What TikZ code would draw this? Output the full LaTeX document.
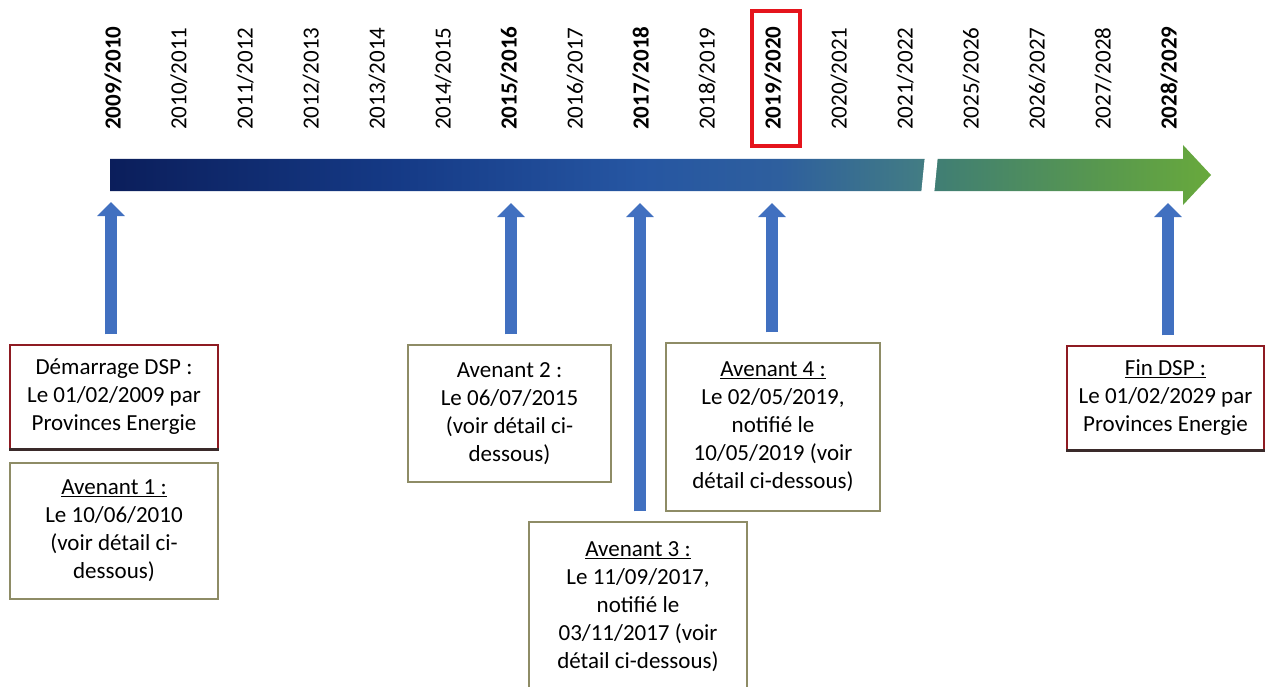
\documentclass[tikz,border=0pt]{standalone}
\usepackage{fontspec}
\setmainfont{Carlito}
\usetikzlibrary{arrows.meta}
\definecolor{c0}{HTML}{0B1E5B}
\definecolor{c1}{HTML}{153A86}
\definecolor{c2}{HTML}{2656A2}
\definecolor{c3}{HTML}{2E5F9E}
\definecolor{c4}{HTML}{427C84}
\definecolor{c5}{HTML}{407E74}
\definecolor{c6}{HTML}{58984E}
\definecolor{c7}{HTML}{68A93C}
\definecolor{arrblue}{HTML}{4170C0}
\definecolor{hlred}{HTML}{E5141C}
\definecolor{dspred}{HTML}{8E1B22}
\definecolor{shadowdark}{HTML}{3A2A2A}
\definecolor{olivebd}{HTML}{8E8C66}
\pgfdeclarehorizontalshading{barshade}{100bp}{color(0bp)=(c0); color(25bp)=(c0); color(38bp)=(c1); color(49bp)=(c2); color(55.4bp)=(c3); color(61.8bp)=(c4); color(62.5bp)=(c5); color(70bp)=(c6); color(75bp)=(c7); color(100bp)=(c7)}
\tikzset{
  yr/.style={rotate=90, anchor=west, inner sep=0pt, font=\fontsize{23}{28}\selectfont},
  yrb/.style={yr, font=\fontsize{23}{28}\selectfont\bfseries},
  redbx/.style={draw=dspred, line width=1.2pt, fill=white, align=center, inner sep=0pt},
  olbx/.style={draw=olivebd, line width=1.5pt, fill=white, align=center, inner sep=0pt},
  blk/.style={draw=arrblue, line width=12.5pt, -{Triangle[width=27pt,length=14pt]}, shorten <=10pt},
  hlbox/.style={draw=hlred, line width=3.5pt, inner sep=0pt}
}
\begin{document}
\begin{tikzpicture}[x=1pt,y=-1pt, font=\fontsize{23}{28}\selectfont]
\useasboundingbox (0,0) rectangle (1265,687);
\fill[white] (0,0) rectangle (1265,687);

% main timeline arrow
\shade[shading=barshade] (110,159) -- (1183,159) -- (1183,145) -- (1211,175) -- (1183,205) -- (1183,191) -- (110,191) -- cycle;
\fill[white] (925,155) -- (938,155) -- (934,195) -- (921,195) -- cycle;

% year labels
\node[yrb] (y0)  at (113,130) {2009/2010};
\node[yr]  (y1)  at (179,130) {2010/2011};
\node[yr]  (y2)  at (245,130) {2011/2012};
\node[yr]  (y3)  at (311,130) {2012/2013};
\node[yr]  (y4)  at (377,130) {2013/2014};
\node[yr]  (y5)  at (443,130) {2014/2015};
\node[yrb] (y6)  at (509,130) {2015/2016};
\node[yr]  (y7)  at (575,130) {2016/2017};
\node[yrb] (y8)  at (641,130) {2017/2018};
\node[yr]  (y9)  at (707,130) {2018/2019};
\node[yrb] (y10) at (773,130) {2019/2020};
\node[yr]  (y11) at (839,130) {2020/2021};
\node[yr]  (y12) at (905,130) {2021/2022};
\node[yr]  (y13) at (971,130) {2025/2026};
\node[yr]  (y14) at (1037,130) {2026/2027};
\node[yr]  (y15) at (1103,130) {2027/2028};
\node[yrb] (y16) at (1169,130) {2028/2029};
\node[hlbox, minimum width=48pt, minimum height=135pt] (hl) at (776,78.5) {};

% arrow target points on the bar
\coordinate (t1) at (111,202);
\coordinate (t2) at (511,203);
\coordinate (t3) at (640,203);
\coordinate (t4) at (772,203);
\coordinate (t5) at (1168,203);

% boxes
\node[redbx, minimum width=208pt, minimum height=104pt] (dem) at (114,397)
  {Démarrage DSP :\\Le 01/02/2009 par\\Provinces Energie};
\node[olbx, minimum width=208pt, minimum height=136pt] (av1) at (114,531)
  {\underline{Avenant 1 :}\\Le 10/06/2010\\(voir détail ci-\\dessous)};
\node[olbx, minimum width=203pt, minimum height=137pt] (av2) at (509.5,413.5)
  {Avenant 2 :\\Le 06/07/2015\\(voir détail ci-\\dessous)};
\node[olbx, minimum width=218pt, minimum height=170pt] (av3) at (638,607)
  {\underline{Avenant 3 :}\\Le 11/09/2017,\\notifié le\\03/11/2017 (voir\\détail ci-dessous)};
\node[olbx, minimum width=214pt, minimum height=168pt] (av4) at (773,427)
  {\underline{Avenant 4 :}\\Le 02/05/2019,\\notifié le\\10/05/2019 (voir\\détail ci-dessous)};
\node[redbx, minimum width=197pt, minimum height=104pt] (fin) at (1165.5,398)
  {\underline{Fin DSP :}\\Le 01/02/2029 par\\Provinces Energie};
\draw[shadowdark, line width=2.5pt] (dem.south west) -- (dem.south east);
\draw[shadowdark, line width=2.5pt] (fin.south west) -- (fin.south east);

% block arrows
\draw[blk] (t1 |- dem.north) -- (t1);
\draw[blk] (t2 |- av2.north) -- (t2);
\draw[blk] (t3 |- av3.north) -- (t3);
\draw[blk] (t4 |- av4.north) -- (t4);
\draw[blk] (t5 |- fin.north) -- (t5);
\end{tikzpicture}
\end{document}
